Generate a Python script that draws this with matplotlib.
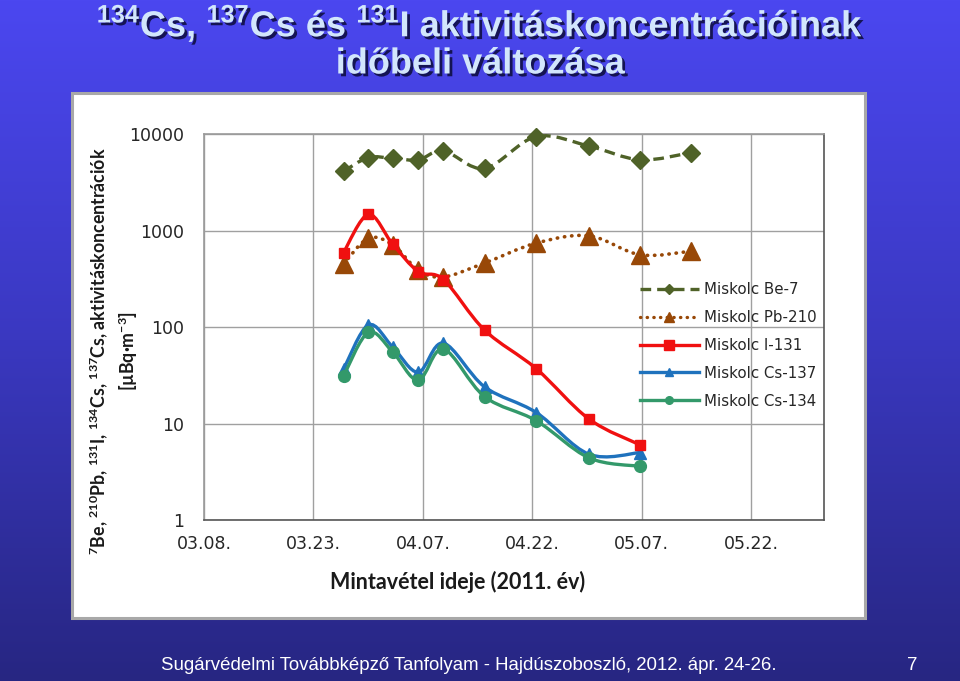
import numpy as np
import matplotlib
matplotlib.use("Agg")
import matplotlib.pyplot as plt
import matplotlib.dates as mdates
import matplotlib.patheffects as pe
from matplotlib.path import Path
from matplotlib.patches import PathPatch, Rectangle
from matplotlib.lines import Line2D
from matplotlib.colors import LinearSegmentedColormap
from matplotlib import font_manager
from datetime import datetime

# ---- data ----
dates_all = ['2011-03-27 03:00', '2011-03-30 13:00', '2011-04-02 21:00', '2011-04-06 09:00',
             '2011-04-09 20:00', '2011-04-15 11:00', '2011-04-22 13:00', '2011-04-29 19:00',
             '2011-05-06 19:00', '2011-05-13 18:00']
be7 = [4100, 5700, 5600, 5400, 6700, 4400, 9400, 7500, 5400, 6400]
pb210 = [450, 830, 710, 390, 330, 460, 740, 880, 560, 610]
i131 = [590, 1470, 720, 375, 310, 93, 37, 11.1, 6.0]
cs137 = [36.5, 105, 62, 34, 68, 24, 13, 4.8, 5.0]
cs134 = [31, 88, 55, 28, 59, 19, 10.7, 4.4, 3.6]

tick_dates = ['2011-03-08 00:00', '2011-03-23 00:00', '2011-04-07 00:00',
              '2011-04-22 00:00', '2011-05-07 00:00', '2011-05-22 00:00']
tick_labels = ['03.08.', '03.23.', '04.07.', '04.22.', '05.07.', '05.22.']
y_ticks = [1, 10, 100, 1000, 10000]
y_tick_labels = ['1', '10', '100', '1000', '10000']

legend_labels = ['Miskolc Be-7', 'Miskolc Pb-210', 'Miskolc I-131', 'Miskolc Cs-137', 'Miskolc Cs-134']

# ---- fonts ----
installed = {f.name for f in font_manager.fontManager.ttflist}
title_font = 'Liberation Sans Narrow' if 'Liberation Sans Narrow' in installed else 'Liberation Sans'
label_font = 'Lato' if 'Lato' in installed else 'DejaVu Sans'

plt.rcParams['mathtext.fontset'] = 'custom'
plt.rcParams['mathtext.bf'] = title_font + ':bold'
plt.rcParams['mathtext.rm'] = label_font + ':bold'


def to_num(ds):
    return mdates.date2num([datetime.fromisoformat(d) for d in ds])


def smooth_path(xs, ys):
    # Excel-like smoothed line: Catmull-Rom -> cubic Bezier in (x, log y) space
    lx = np.asarray(xs, float)
    ly = np.log10(np.asarray(ys, float))
    n = len(lx)
    verts = [(lx[0], ly[0])]
    codes = [Path.MOVETO]
    for i in range(n - 1):
        a = i - 1 if i > 0 else i
        b = i + 2 if i + 2 < n else i + 1
        c1 = (lx[i] + (lx[i + 1] - lx[a]) / 6, ly[i] + (ly[i + 1] - ly[a]) / 6)
        c2 = (lx[i + 1] - (lx[b] - lx[i]) / 6, ly[i + 1] - (ly[b] - ly[i]) / 6)
        verts += [c1, c2, (lx[i + 1], ly[i + 1])]
        codes += [Path.CURVE4] * 3
    verts = np.array(verts)
    verts[:, 1] = 10 ** verts[:, 1]
    return Path(verts, codes)


fig = plt.figure(figsize=(9.6, 6.81), dpi=100)

# ---- slide background ----
bg = fig.add_axes([0, 0, 1, 1], zorder=-10)
grad = np.linspace(0, 1, 256).reshape(-1, 1)
cmap_bg = LinearSegmentedColormap.from_list('bg', ['#4b47f0', '#3a38c0', '#272682'])
bg.imshow(grad, aspect='auto', cmap=cmap_bg, extent=[0, 1, 0, 1])
bg.set_xlim(0, 1)
bg.set_ylim(0, 1)
bg.axis('off')
bg.add_patch(Rectangle((72 / 960, 1 - 618 / 681), 793 / 960, 525 / 681,
                       facecolor='white', edgecolor='#a8a8a8', lw=2.2))

# ---- title ----
shadow = [pe.withSimplePatchShadow(offset=(2, -2), shadow_rgbFace='#0c0c3a', alpha=0.85)]
fig.text(0.5, 1 - 24 / 681,
         r'$^{\mathbf{134}}$Cs, $^{\mathbf{137}}$Cs és $^{\mathbf{131}}$I aktivitáskoncentrációinak',
         ha='center', va='center', fontsize=26, fontweight='bold', family=title_font,
         color='#d2e6fc', path_effects=shadow)
fig.text(0.5, 1 - 64 / 681, 'időbeli változása',
         ha='center', va='center', fontsize=26, fontweight='bold', family=title_font,
         color='#d2e6fc', path_effects=shadow)

# ---- footer ----
fig.text(469 / 960, 1 - 665 / 681,
         'Sugárvédelmi Továbbképző Tanfolyam - Hajdúszoboszló, 2012. ápr. 24-26.',
         ha='center', va='center', fontsize=13.4, family='Liberation Sans', color='white')
fig.text(912 / 960, 1 - 665 / 681, '7', ha='center', va='center',
         fontsize=13.4, family='Liberation Sans', color='white')

# ---- chart ----
ax = fig.add_axes([204 / 960, 1 - 520 / 681, 620 / 960, 386 / 681])
ax.set_facecolor('white')
ax.set_yscale('log')
ax.set_ylim(1, 10000)
ax.set_xlim(to_num(['2011-03-08 00:00'])[0], to_num(['2011-06-01 00:00'])[0])

ax.set_xticks(to_num(tick_dates))
ax.set_xticklabels(tick_labels)
ax.set_yticks(y_ticks)
ax.set_yticklabels(y_tick_labels)
ax.minorticks_off()
ax.tick_params(length=0, labelsize=12.5, colors='#262626')
ax.tick_params(axis='x', pad=11)
ax.tick_params(axis='y', pad=14)
for lab in ax.get_xticklabels() + ax.get_yticklabels():
    lab.set_family('DejaVu Sans')
ax.grid(True, color='#a0a0a0', lw=1)
ax.set_axisbelow(True)
for side in ['left', 'top']:
    ax.spines[side].set_color('#9a9a9a')
for side in ['right', 'bottom']:
    ax.spines[side].set_color('#555555')
for s in ax.spines.values():
    s.set_linewidth(1.2)

x_all = to_num(dates_all)
x9 = x_all[:len(i131)]

series = [
    (x_all, be7, '#4f6228', (0, (3.2, 1.8)), 'butt', 'D', 9.5, 2.4),
    (x_all, pb210, '#984807', (0, (0.1, 1.9)), 'round', '^', 12.5, 2.6),
    (x9, cs137, '#1f72bd', '-', 'butt', '^', 8.5, 2.4),
    (x9, cs134, '#33996a', '-', 'butt', 'o', 8.5, 2.4),
    (x9, i131, '#f01010', '-', 'butt', 's', 7.5, 2.4),
]
for k, (xs, ys, col, ls, cap, mk, ms, lw) in enumerate(series):
    patch = PathPatch(smooth_path(xs, ys), fill=False, edgecolor=col, lw=lw,
                      linestyle=ls, capstyle=cap, zorder=3 + k)
    ax.add_patch(patch)
    ax.plot(xs, ys, linestyle='none', marker=mk, ms=ms, color=col,
            markeredgecolor=col, zorder=3 + k, clip_on=False)

# legend (proxy handles, Excel order)
leg_style = {
    'Miskolc Be-7': ('#4f6228', (0, (3.2, 1.8)), 'D', 5),
    'Miskolc Pb-210': ('#984807', (0, (0.1, 1.9)), '^', 7),
    'Miskolc I-131': ('#f01010', '-', 's', 7),
    'Miskolc Cs-137': ('#1f72bd', '-', '^', 5.5),
    'Miskolc Cs-134': ('#33996a', '-', 'o', 5.5),
}
handles = []
for name in legend_labels:
    col, ls, mk, ms = leg_style[name]
    h = Line2D([0], [0], color=col, lw=2.4, linestyle=ls, marker=mk, ms=ms,
               markeredgecolor=col, dash_capstyle='round' if name.endswith('210') else 'butt')
    handles.append(h)
leg = ax.legend(handles, legend_labels, loc='upper left',
                bbox_to_anchor=(640 / 960, 1 - 282 / 681), bbox_transform=fig.transFigure,
                frameon=False, handlelength=3.9, handletextpad=0.35, labelspacing=0.86,
                borderpad=0, borderaxespad=0, prop={'family': 'DejaVu Sans', 'size': 10.8})
for t in leg.get_texts():
    t.set_color('#262626')

# axis labels
fig.text(458 / 960, 1 - 582 / 681, 'Mintavétel ideje (2011. év)', ha='center', va='center',
         fontsize=15.5, fontweight='bold', family=label_font, color='#1a1a1a')
ylab = (r'$^{\mathrm{7}}$Be, $^{\mathrm{210}}$Pb, $^{\mathrm{131}}$I, $^{\mathrm{134}}$Cs, '
        r'$^{\mathrm{137}}$Cs, aktivitáskoncentrációk' + '\n' + r'[µBq·m$^{\mathrm{-3}}$]')
fig.text(114 / 960, 1 - 351 / 681, ylab, rotation=90, ha='center', va='center',
         multialignment='center', fontsize=12.8, fontweight='bold', family=label_font,
         color='#1a1a1a', linespacing=1.25)

fig.savefig('out.png', dpi=100)
